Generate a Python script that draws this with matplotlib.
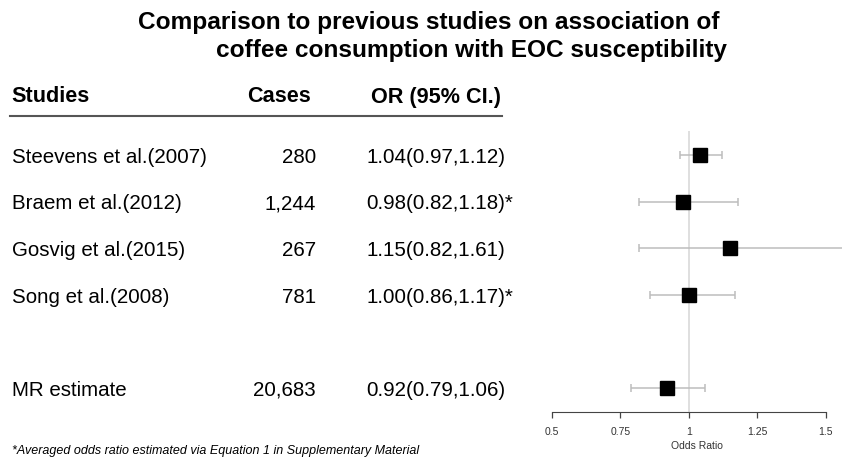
import matplotlib
matplotlib.use("Agg")
import matplotlib.pyplot as plt
import matplotlib.transforms as mtransforms

plt.rcParams['font.family'] = ['Liberation Sans', 'DejaVu Sans']

studies = ["Steevens et al.(2007)", "Braem et al.(2012)", "Gosvig et al.(2015)",
           "Song et al.(2008)", "MR estimate"]
cases = ["280", "1,244", "267", "781", "20,683"]
odds = [1.04, 0.98, 1.15, 1.00, 0.92]
lower = [0.97, 0.82, 0.82, 0.86, 0.79]
upper = [1.12, 1.18, 1.61, 1.17, 1.06]
starred = [False, True, False, True, False]
rows = [0, 1, 2, 3, 5]
xticks = [0.5, 0.75, 1.0, 1.25, 1.5]
xticklabels = ["0.5", "0.75", "1", "1.25", "1.5"]

W, H = 842, 460
fig = plt.figure(figsize=(W / 100, H / 100), dpi=100)


def fx(px):
    return px / W


def fy(py):
    return 1 - py / H


# forest plot axes
ax_left, ax_right = 551.7, 842
ax_top, ax_bot = 132, 412.7
ax = fig.add_axes([fx(ax_left), fy(ax_bot), fx(ax_right - ax_left), (ax_bot - ax_top) / H])
ax.set_xlim(0.5, 0.5 + (ax_right - ax_left) / 274.0)
ax.set_ylim(5.51, -0.515)
ax.axvline(1.0, color='#d9d9d9', lw=1.2, zorder=0)
for r, o, lo, hi in zip(rows, odds, lower, upper):
    ax.errorbar([o], [r], xerr=[[o - lo], [hi - o]], fmt='none', ecolor='#bdbdbd',
                elinewidth=1.1, capsize=3, capthick=1.1, zorder=1)
ax.plot(odds, rows, 's', color='black', markersize=9.5, zorder=2)

for s in ['top', 'right', 'left']:
    ax.spines[s].set_visible(False)
ax.spines['bottom'].set_bounds(0.5, 1.5)
ax.spines['bottom'].set_color('#444444')
ax.set_yticks([])
ax.set_xticks(xticks)
ax.set_xticklabels(xticklabels, fontsize=7.5)
ax.tick_params(axis='x', length=4, width=0.9, pad=6, color='#444444', colors='#333333')
ax.set_xlabel("Odds Ratio", fontsize=7.5, labelpad=3, color='#333333')
ax.patch.set_visible(False)

# table text, rows follow the forest plot data coordinates
tr = mtransforms.blended_transform_factory(fig.transFigure, ax.transData)
for r, name, c, o, lo, hi, st in zip(rows, studies, cases, odds, lower, upper, starred):
    ax.text(fx(12), r + 0.03, name, transform=tr, ha='left', va='center', fontsize=14.8, clip_on=False)
    ax.text(fx(316), r + 0.03, c, transform=tr, ha='right', va='center', fontsize=14.8, clip_on=False)
    label = "%.2f(%.2f,%.2f)" % (o, lo, hi) + ("*" if st else "")
    ax.text(fx(366), r + 0.03, label, transform=tr, ha='left', va='center', fontsize=14.8, clip_on=False)

# headers
fig.text(fx(11), fy(97), "Studies", ha='left', va='center', fontsize=15.6, fontweight='bold')
fig.text(fx(311), fy(97), "Cases", ha='right', va='center', fontsize=15.6, fontweight='bold')
fig.text(fx(501), fy(97), "OR (95% CI.)", ha='right', va='center', fontsize=15.6, fontweight='bold')
fig.add_artist(plt.Line2D([fx(10), fx(502)], [fy(117), fy(117)], color='#555555', lw=1.5))

# title
fig.text(fx(720), fy(22), "Comparison to previous studies on association of",
         ha='right', va='center', fontsize=17.6, fontweight='bold')
fig.text(fx(727), fy(50), "coffee consumption with EOC susceptibility",
         ha='right', va='center', fontsize=17.6, fontweight='bold')

# footnote
fig.text(fx(12), fy(451), "*Averaged odds ratio estimated via Equation 1 in Supplementary Material",
         ha='left', va='center', fontsize=9, style='italic')

fig.savefig("out.png", dpi=100)
